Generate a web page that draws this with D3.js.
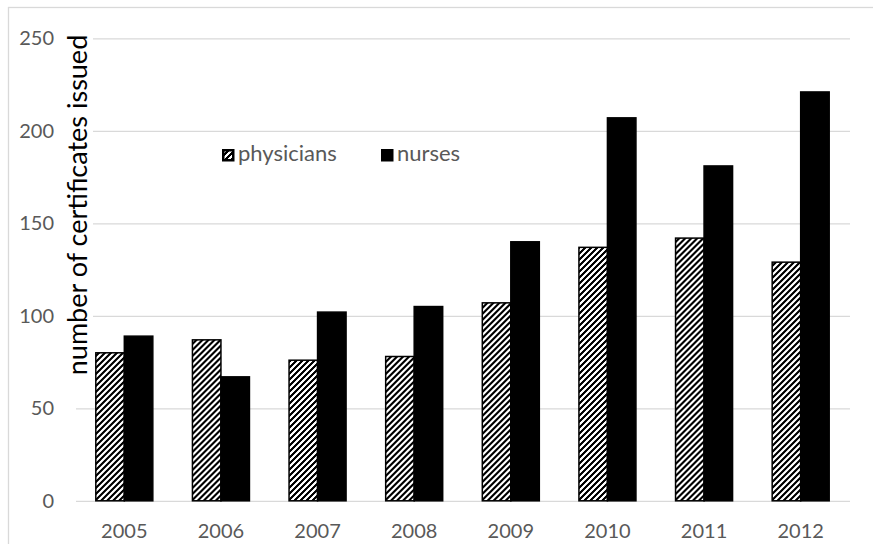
<!DOCTYPE html>
<html>
<head>
<meta charset="utf-8">
<script src="https://cdn.jsdelivr.net/npm/d3@7"></script>
<style>
  html, body { margin: 0; padding: 0; background: #fff; }
  svg { display: block; }
  text { font-family: Lato, "Open Sans", sans-serif; }
</style>
</head>
<body>
<svg id="chart" width="873" height="544"></svg>
<script>
// Certificates issued per year
const years = ["2005", "2006", "2007", "2008", "2009", "2010", "2011", "2012"];
const physicians = [80, 87, 76, 78, 107, 137, 142, 129];
const nurses = [89, 67, 102, 105, 140, 207, 181, 221];
const seriesNames = ["physicians", "nurses"];
const yTicks = [0, 50, 100, 150, 200, 250];

const W = 873, H = 544;
const plot = { left: 76, right: 849, top: 38.3, bottom: 500.8 };

const svg = d3.select("#chart");

// wide upward-diagonal hatch for the physicians series, built on whole pixels
const TILE = 6, INK = 3;
const defs = svg.append("defs");
const hatch = defs.append("pattern")
  .attr("id", "hatch")
  .attr("patternUnits", "userSpaceOnUse")
  .attr("width", TILE)
  .attr("height", TILE);
hatch.append("rect").attr("width", TILE).attr("height", TILE).attr("fill", "#fff");
const cells = [];
for (let r = 0; r < TILE; r++) {
  for (let c = 0; c < TILE; c++) {
    if ((r + c) % TILE < INK) cells.push({ r, c });
  }
}
hatch.selectAll("rect.px")
  .data(cells)
  .join("rect")
  .attr("class", "px")
  .attr("x", d => d.c).attr("y", d => d.r)
  .attr("width", 1).attr("height", 1)
  .attr("fill", "#000")
  .attr("shape-rendering", "crispEdges");

// outer chart frame
svg.append("rect")
  .attr("x", 8.5).attr("y", 7.5)
  .attr("width", W + 20).attr("height", H + 20)
  .attr("fill", "#fff")
  .attr("stroke", "#d9d9d9")
  .attr("stroke-width", 1.3);

const x0 = d3.scaleBand()
  .domain(years)
  .range([plot.left, plot.right])
  .paddingInner(0.41)
  .paddingOuter(0.205);

const x1 = d3.scaleBand()
  .domain(seriesNames)
  .range([0, x0.bandwidth()])
  .padding(0);

const y = d3.scaleLinear()
  .domain([0, 250])
  .range([plot.bottom, plot.top]);

// horizontal gridlines
const grid = svg.append("g")
  .attr("transform", `translate(${plot.left},0)`)
  .call(d3.axisLeft(y).tickValues(yTicks).tickSize(-(plot.right - plot.left + 1)).tickFormat(""));
grid.select(".domain").remove();
grid.selectAll(".tick line").attr("stroke", "#d9d9d9").attr("stroke-width", 1.3);

// y tick labels
const yAxis = svg.append("g")
  .attr("transform", `translate(54,0)`)
  .call(d3.axisLeft(y).tickValues(yTicks).tickSize(0).tickPadding(0));
yAxis.select(".domain").remove();
yAxis.selectAll("text")
  .attr("fill", "#595959")
  .style("font-size", "20px");

// x tick labels
const xAxis = svg.append("g")
  .attr("transform", `translate(0,${plot.bottom})`)
  .call(d3.axisBottom(x0.copy().paddingInner(0).paddingOuter(0)).tickSize(0).tickPadding(23));
xAxis.select(".domain").remove();
xAxis.selectAll("text")
  .attr("fill", "#595959")
  .style("font-size", "20px");

// bars
const rows = years.map((yr, i) => ({ year: yr, values: [
  { key: "physicians", value: physicians[i] },
  { key: "nurses", value: nurses[i] }
]}));

const groups = svg.append("g").selectAll("g")
  .data(rows)
  .join("g")
  .attr("transform", d => `translate(${x0(d.year)},0)`);

groups.selectAll("rect")
  .data(d => d.values)
  .join("rect")
  .attr("x", d => x1(d.key))
  .attr("y", d => y(d.value))
  .attr("width", x1.bandwidth())
  .attr("height", d => y(0) - y(d.value))
  .attr("fill", d => d.key === "physicians" ? "url(#hatch)" : "#000")
  .attr("stroke", "#000")
  .attr("stroke-width", 1.5);

// y axis title, on a white box that hides the gridlines behind it
const title = svg.append("g").attr("transform", "translate(87,205) rotate(-90)");
const titleText = title.append("text")
  .attr("text-anchor", "middle")
  .attr("fill", "#000")
  .style("font-size", "27px")
  .text("number of certificates issued");
const tb = titleText.node().getBBox();
title.insert("rect", "text")
  .attr("x", tb.x).attr("y", tb.y)
  .attr("width", tb.width).attr("height", tb.height)
  .attr("fill", "#fff");

// legend
const legendItems = [
  { name: seriesNames[0], fill: "url(#hatch)", x: 222 },
  { name: seriesNames[1], fill: "#000", x: 381 }
];
const legend = svg.append("g").selectAll("g")
  .data(legendItems)
  .join("g")
  .attr("transform", d => `translate(${d.x},149)`);
legend.append("rect")
  .attr("x", 1.25).attr("y", 1.25)
  .attr("width", 10).attr("height", 10)
  .attr("fill", d => d.fill)
  .attr("stroke", "#000")
  .attr("stroke-width", 2.5);
legend.append("text")
  .attr("x", 16)
  .attr("y", 12)
  .attr("fill", "#595959")
  .style("font-size", "22px")
  .text(d => d.name);
</script>
</body>
</html>
